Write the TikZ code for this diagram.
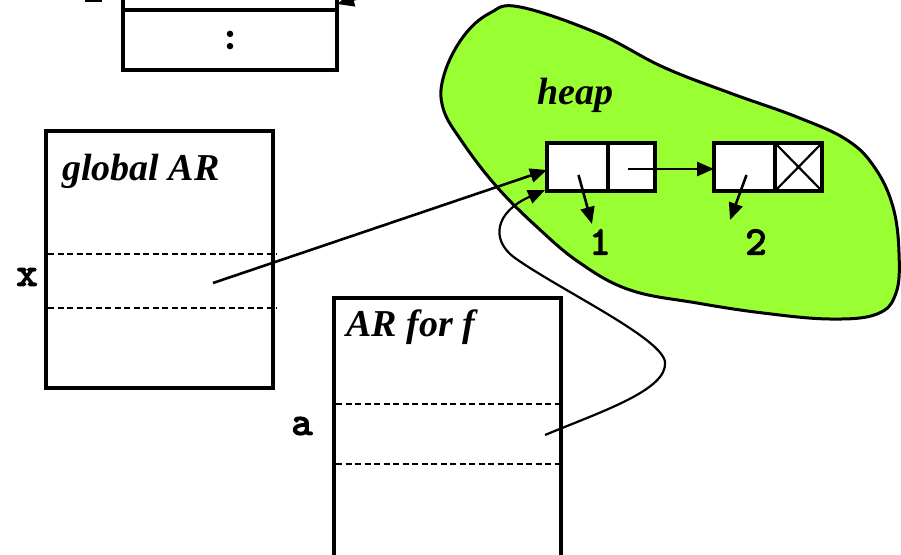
\documentclass[tikz,border=0pt]{standalone}
\usepackage{fontspec}
\setmainfont{Liberation Serif}
\newfontfamily\codefont{lmmono10-regular.otf}[FakeBold=3.5]
\usetikzlibrary{arrows.meta,calc}
\definecolor{heapgreen}{RGB}{153,255,51}
\tikzset{
  frame/.style={draw, line width=3.5pt, inner sep=0pt, outer sep=0pt, fill=white},
  cell/.style={draw, line width=3.5pt, inner sep=0pt, outer sep=0pt, fill=white, minimum height=48pt},
  slot/.style={line width=1.4pt, dash pattern=on 6pt off 3.5pt},
  tip/.style={-{Triangle[length=17pt,width=14pt]}},
  ptr/.style={line width=2.6pt, tip},
  title/.style={font=\fontsize{38}{40}\selectfont\bfseries\itshape, inner sep=0pt, anchor=base west},
  var/.style={font=\fontsize{40}{42}\selectfont\codefont, inner sep=0pt}
}
\begin{document}
\begin{tikzpicture}[x=1pt,y=-1pt]
\useasboundingbox (0,0) rectangle (901,554);
\clip (0,0) rectangle (901,554);

% heap region
\draw[line width=3pt, fill=heapgreen] plot[smooth cycle, tension=0.65] coordinates {
  (520,7) (597,33) (663,67) (730,93) (797,117) (847,140) (875,168)
  (893,207) (899,253) (896,293) (877,314) (830,319) (763,313) (697,303)
  (630,290) (580,263) (537,227) (497,187) (463,143) (443,108) (444,75)
  (463,37) (490,13)};
\node[title] (heaplbl) at (537,104) {heap};

% top of the stack, partly visible
\node[frame, anchor=south west, minimum width=214pt, minimum height=100pt] (stktop) at (123,10) {};
\node[frame, anchor=north west, minimum width=214pt, minimum height=60pt] (stkdots) at (123,10) {};
\node[var] (dots) at (stkdots.center) {:};
\coordinate (frag) at (85,0.5);
\draw[line width=3pt] (frag) -- ++(17,0);
\coordinate (topsrc) at (410,-16);
\draw[ptr] (topsrc) -- (stktop.south east |- 0,4);

% global activation record
\node[frame, anchor=north west, minimum width=227pt, minimum height=257pt] (glob) at (46,131) {};
\node[title] (globlbl) at (62,180) {global AR};
\draw[slot] (48,254) -- (277,254);
\draw[slot] (48,308) -- (277,308);
\node[var] (xlbl) at (27,277) {x};

% activation record for f
\node[frame, anchor=north west, minimum width=227pt, minimum height=300pt] (arf) at (334,298) {};
\node[title] (arflbl) at (346,336) {AR for f};
\draw[slot] (336,404) -- (562,404);
\draw[slot] (336,464) -- (562,464);
\node[var] (albl) at (302,426) {a};

% list cells
\node[cell, minimum width=61pt] (c1a) at (577.5,167) {};
\node[cell, minimum width=47pt, anchor=west] (c1b) at (c1a.east) {};
\node[cell, minimum width=61pt] (c2a) at (744.5,167) {};
\node[cell, minimum width=47pt, anchor=west] (c2b) at (c2a.east) {};
\draw[line width=2.2pt] (c2b.north west) -- (c2b.south east) (c2b.south west) -- (c2b.north east);

\node[var] (one) at (600,242) {1};
\node[var] (two) at (756,242) {2};

% pointers
\coordinate (h1) at ($(c1a.center)+(1,8)$);
\coordinate (h1end) at (592,224);
\draw[ptr] (h1) -- (h1end);
\coordinate (h2) at ($(c2a.center)+(2,8)$);
\coordinate (h2end) at (730,220);
\draw[ptr] (h2) -- (h2end);
\coordinate (nxt) at ($(c1b.center)+(-4,2)$);
\draw[ptr] (nxt) -- (c2a.west |- nxt);

\coordinate (xval) at (213,283);
\draw[ptr] (xval) -- ($(c1a.west)+(0,3)$);

\coordinate (aval) at (545,435);
\draw[line width=2.2pt, tip] (aval)
  .. controls (600,412) and (668,390) .. (665,362)
  .. controls (662,338) and (560,290) .. (515,258)
  .. controls (490,240) and (495,212) .. ($(c1a.south west)+(-2,-1)$);
\end{tikzpicture}
\end{document}
